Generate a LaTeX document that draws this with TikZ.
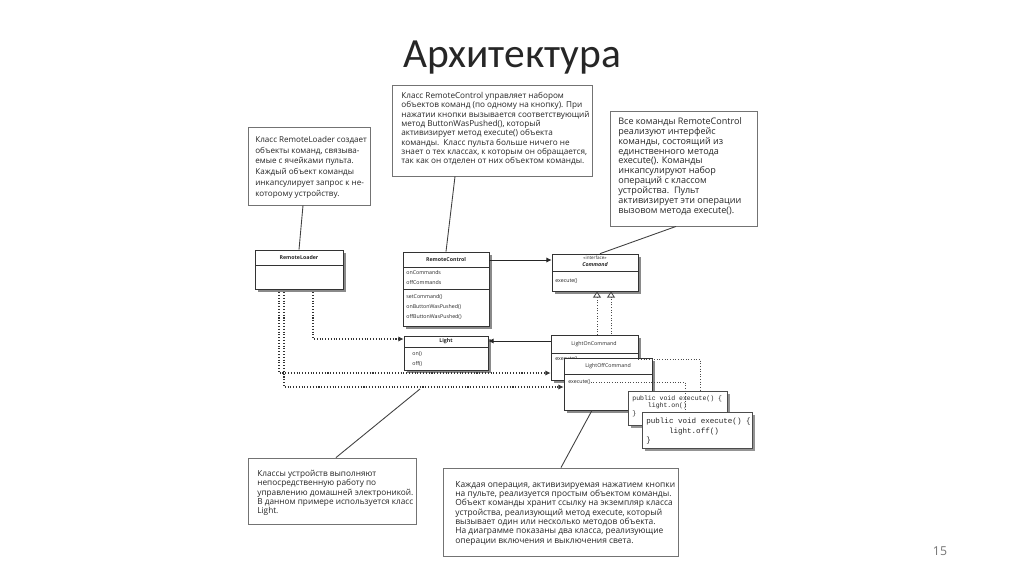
\documentclass[tikz,border=0pt]{standalone}
\usepackage{fontspec}
\setmainfont{Open Sans}
\newfontfamily\titlefont{Carlito}
\setmonofont{Liberation Mono}
\usetikzlibrary{fit,shadows,arrows.meta}

\begin{document}
\begin{tikzpicture}[x=0.02cm,y=-0.02cm,
    note/.style={draw=black!55, line width=0.5pt, fill=white, inner sep=0pt,
        drop shadow={shadow xshift=0.6pt, shadow yshift=-0.6pt, fill=black!35, opacity=0.6}},
    notetext/.style={anchor=north west, inner sep=0pt, align=left, text=black!85,
        font=\fontsize{4.8}{5.3}\selectfont},
    cls/.style={draw=black!80, line width=0.4pt, fill=white, inner sep=0pt,
        drop shadow={shadow xshift=1.8pt, shadow yshift=-1.8pt, fill=black!65, opacity=0.7}},
    clsname/.style={inner sep=0pt, text=black!85, font=\fontsize{3}{3.6}\selectfont\bfseries},
    member/.style={anchor=west, inner sep=0pt, text=black!85, font=\fontsize{3}{3.6}\selectfont},
    codebox/.style={draw=black!70, line width=0.4pt, fill=white, inner sep=0pt,
        drop shadow={shadow xshift=1.5pt, shadow yshift=-1.5pt, fill=black!60, opacity=0.7}},
    codetext/.style={anchor=north west, inner sep=0pt, align=left, text=black!85,
        font=\ttfamily\fontsize{3.7}{4.4}\selectfont},
    dep/.style={densely dotted, line width=0.6pt, black!80, -{Latex[length=3pt,width=3pt]}},
    link/.style={densely dotted, line width=0.5pt, black!70},
    assoc/.style={line width=0.5pt, black!85, -{Latex[length=3pt,width=3pt]}},
    impl/.style={densely dotted, line width=0.5pt, black!70, -{Triangle[open, length=3.5pt, width=4.5pt]}},
    callout/.style={line width=0.5pt, black!75}
]
    \useasboundingbox (0,0) rectangle (1024,574);

    % заголовок и номер слайда
    \node[font=\titlefont\fontsize{23.6}{28}\selectfont, text=black!85] (title) at (512,58) {Архитектура};
    \node[font=\fontsize{7}{8}\selectfont, text=black!55] (pagenum) at (940,551) {15};

    % пояснения
    \node[note, fit={(248,127) (370,205)}] (nloader) {};
    \node[notetext, font=\fontsize{4.6}{6.1}\selectfont] at (255,136) {Класс RemoteLoader создает\\объекты команд, связыва-\\емые с ячейками пульта.\\Каждый объект команды\\инкапсулирует запрос к не-\\которому устройству.};

    \node[note, fit={(392,85) (592,176)}] (nrc) {};
    \node[notetext, font=\fontsize{4.65}{5.3}\selectfont] at (401,92) {Класс RemoteControl управляет набором\\объектов команд (по одному на кнопку). При\\нажатии кнопки вызывается соответствующий\\метод ButtonWasPushed(), который\\активизирует метод execute() объекта\\команды.\ \ Класс пульта больше ничего не\\знает о тех классах, к которым он обращается,\\так как он отделен от них объектом команды.};

    \node[note, fit={(610,111) (757,226)}] (ncmd) {};
    \node[notetext, font=\fontsize{5.15}{5.65}\selectfont] at (618,117) {Все команды RemoteControl\\реализуют интерфейс\\команды, состоящий из\\единственного метода\\execute(). Команды\\инкапсулируют набор\\операций с классом\\устройства.\ \ Пульт\\активизирует эти операции\\вызовом метода execute().};

    \node[note, fit={(248,458) (416,524)}] (nlight) {};
    \node[notetext, font=\fontsize{4.7}{5.3}\selectfont] at (257,470) {Классы устройств выполняют\\непосредственную работу по\\управлению домашней электроникой.\\В данном примере используется класс\\Light.};

    \node[note, fit={(443,468) (678,556)}] (nlon) {};
    \node[notetext, font=\fontsize{4.8}{5.3}\selectfont] at (455,481) {Каждая операция, активизируемая нажатием кнопки\\на пульте, реализуется простым объектом команды.\\Объект команды хранит ссылку на экземпляр класса\\устройства, реализующий метод execute, который\\вызывает один или несколько методов объекта.\\На диаграмме показаны два класса, реализующие\\операции включения и выключения света.};

    % RemoteLoader
    \node[cls, fit={(255,250) (343,289)}] (loader) {};
    \draw[line width=0.4pt, black!80] (255,265) -- (343,265);
    \node[clsname] at (299,257.5) {RemoteLoader};

    % RemoteControl
    \node[cls, fit={(403,252) (489,326)}] (rc) {};
    \draw[line width=0.4pt, black!80] (403,267) -- (489,267);
    \draw[line width=0.4pt, black!80] (403,289) -- (489,289);
    \node[clsname] at (446,259.5) {RemoteControl};
    \node[member] at (406,273) {onCommands};
    \node[member] at (406,283) {offCommands};
    \node[member] at (406,297) {setCommand()};
    \node[member] at (406,307) {onButtonWasPushed()};
    \node[member] at (406,317) {offButtonWasPushed()};

    % Light
    \node[cls, fit={(404,336) (488,370)}] (light) {};
    \draw[line width=0.4pt, black!80] (404,347) -- (488,347);
    \node[clsname] at (446,341.5) {Light};
    \node[member] at (412,354) {on()};
    \node[member] at (412,364) {off()};

    % интерфейс Command
    \node[cls, fit={(552,254) (638,291)}] (cmd) {};
    \draw[line width=0.4pt, black!80] (552,271) -- (638,271);
    \node[clsname, font=\fontsize{2.6}{3}\selectfont] at (595,258) {«interface»};
    \node[clsname, font=\fontsize{3}{3.6}\selectfont\bfseries\itshape] at (595,265) {Command};
    \node[member] at (555,281) {execute()};

    % команды
    \draw[impl] (611,358) -- (cmd.south -| 611,0);
    \draw[impl] (597,335) -- (cmd.south -| 597,0);
    \node[cls, fit={(551,335) (638,380)}] (lon) {};
    \draw[line width=0.4pt, black!80] (551,353) -- (638,353);
    \node[clsname, font=\fontsize{3}{3.6}\selectfont] at (594,344) {LightOnCommand};
    \node[member] at (555,359) {execute()};

    \node[cls, fit={(564,358) (652,410)}] (loff) {};
    \draw[line width=0.4pt, black!80] (564,374) -- (652,374);
    \node[clsname, font=\fontsize{3}{3.6}\selectfont] at (608,366) {LightOffCommand};
    \node[member] (offexec) at (568,382) {execute()};

    % код методов execute()
    \node[codebox, fit={(628,391) (727,425)}] (code1) {};
    \node[codetext] at (632,395) {public void execute() \{\\\phantom{xxxx}light.on()\\\}};
    \draw[link] (lon.east |- 0,359) -| (code1.north -| 700,0);
    \draw[link] (offexec.east) -- (loff.east |- 0,382) -| (685,412);
    \node[codebox, fit={(642,412) (752,448)}] (code2) {};
    \node[codetext, font=\ttfamily\fontsize{4.3}{5.4}\selectfont] at (646,418) {public void execute() \{\\\phantom{xxxxx}light.off()\\\}};

    % связи
    \draw[assoc] (rc.east |- 0,260) -- (cmd.west |- 0,260);
    \draw[assoc] (lon.west |- 0,341) -- (light.east |- 0,341);
    \draw[dep] (loader.south -| 313,0) |- (light.west |- 0,339);
    \draw[dep] (loader.south -| 279,0) |- (lon.west |- 0,373);
    \draw[dep] (loader.south -| 284,0) |- (loff.west |- 0,387);

    % выноски
    \coordinate (devpt) at (420,389);
    \draw[callout] (nloader.south -| 303,0) -- (loader.north);
    \draw[callout] (nrc.south -| 455,0) -- (rc.north);
    \draw[callout] (ncmd.south -| 676,0) -- (cmd.north -| 600,0);
    \draw[callout] (nlight.north -| 336,0) -- (devpt);
    \draw[callout] (nlon.north -| 561,0) -- (loff.south -| 592,0);
\end{tikzpicture}
\end{document}
